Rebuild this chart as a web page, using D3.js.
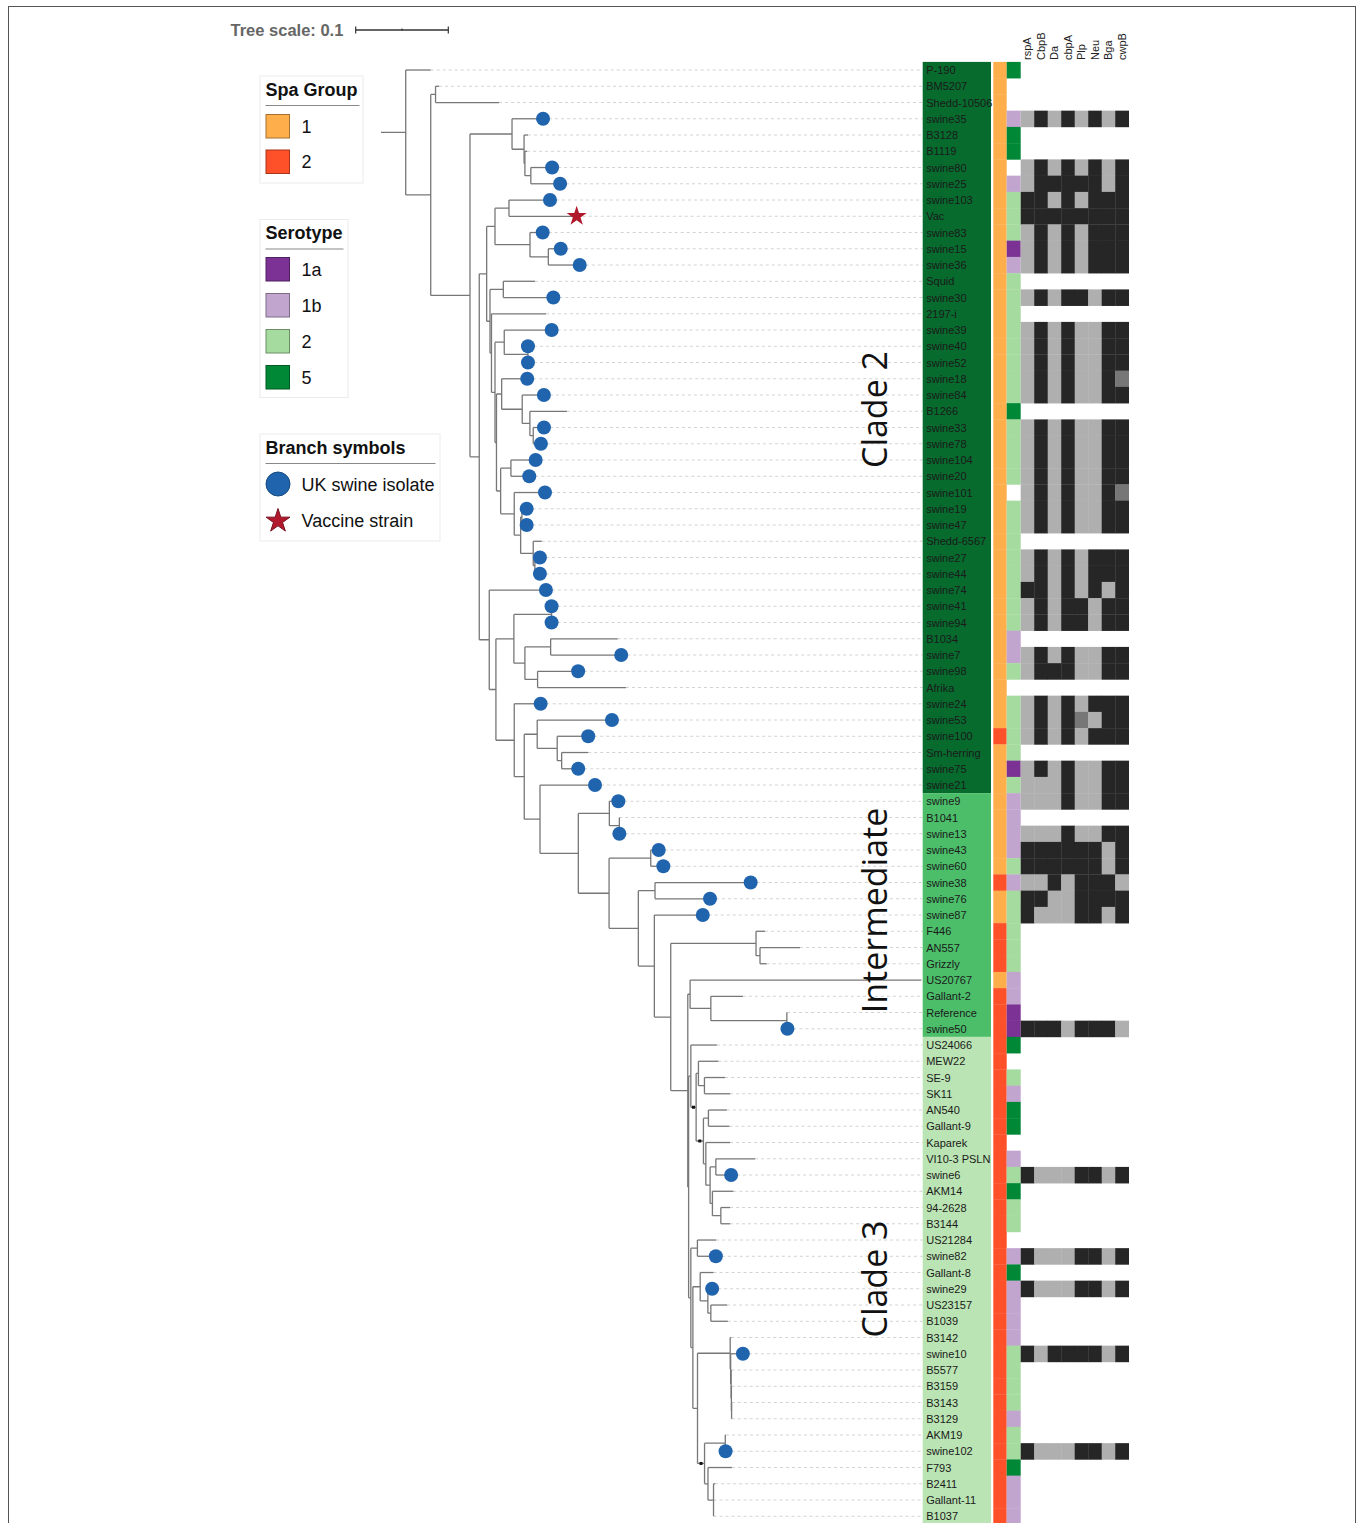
<!DOCTYPE html>
<html>
<head>
<meta charset="utf-8">
<script src="https://cdn.jsdelivr.net/npm/d3@7"></script>
<style>
  body { margin: 0; background: #fff; font-family: "Liberation Sans", Arial, sans-serif; }
</style>
</head>
<body>
<script>
// ---- data ----
// tree with branch lengths (substitutions/site); "*" marks nodes that carry a small support dot
const treeNewick =
  "(P-190:0.0270,((BM5207:0.0038,Shedd-10506:0.0686):0.0052," +
  "((swine35:0.0335,(B3128:0.0043,(B1119:0.0024,(swine80:0.0230,swine25:0.0316):0.0064):0.0009):0.0130):0.0454," +
  "((((swine103:0.0443,Vac:0.0731):0.0151,(swine83:0.0137,(swine15:0.0134,swine36:0.0339):0.0198):0.0378):0.0090," +
  "((Squid:0.0342,swine30:0.0540):0.0144,(2197-i:0.0589," +
  "((swine39:0.0512,(swine40:0,swine52:0):0.0256):0.0100," +
  "((swine18:0.0276,(swine84:0.0234,(B1266:0.0400,(swine33:0.0116,swine78:0.0083):0.0036):0.0083):0.0222):0.0056," +
  "((swine104:0.0267,swine20:0.0198):0.0111,(swine101:0.0332,((swine19:0.0051,swine47:0.0051):0.0014," +
  "(Shedd-6567:0.0091,(swine27:0.0054,swine44:0.0054):0.0018):0.0136):0.0069):0.0147):0.0045):0.0016):0.0038):0.0016):0.0036):0.0080," +
  "(swine74:0.0612,(((swine41:0,swine94:0):0.0407,((B1034:0.0724,swine7:0.0762):0.0278,(swine98:0.0438,Afrika:0.0954):0.0137):0.0119):0.0194," +
  "(swine24:0.0285,((swine53:0.0807,(swine100:0.0335,(Sm-herring:0.0287,swine75:0.0179):0.0048):0.0216):0.0140," +
  "(swine21:0.0594,((swine9:0.0097,(B1041:0,swine13:0):0.0108):0.0335," +
  "((swine43:0.0086,swine60:0.0136):0.0450,((swine38:0.1033,swine76:0.0594):0.0180," +
  "(swine87:0.0523,((F446:0.0097,(AN557:0.0432,Grizzly:0.0072):0.0043):0.0921," +
  "((US20767:0.2495,(Gallant-2:0.0346,(Reference:0.0003,swine50:0.0006):0.0821):0.0224):0.0025," +
  "((US24066:0.0281,((MEW22:0.0216,(SE-9:0.0224,SK11:0.0278):0.0065):0.0025," +
  "((AN540:0.0199,Gallant-9:0.0227):0.0054,(Kaparek:0.0262,(('VI10-3 PSLN':0.0424,swine6:0.0165):0.0062," +
  "(AKM14:0.0227,(94-2628:0.0100,B3144:0.0100):0.0091):0.0025):0.0046):0.0026)*:0.0079)*:0.0057):0.0024," +
  "((US21284:0.0202,swine82:0.0199):0.0071,((Gallant-8:0.0144,(swine29:0.0046,(US23157:0.0176,B1039:0.0184):0.0032):0.0083):0.0079," +
  "((B3142:0.0011,(swine10:0.0132,(B5577:0.0005,(B3159:0.0004,(B3143:0.0002,B3129:0.0002):0.0002):0.0003):0.0005):0.0005):0.0353," +
  "((AKM19:0.0008,swine102:0.0003):0.0224,(F793:0.0259,(B2411:0.0018,Gallant-11:0,B1037:0):0.0060):0.0037)*:0.0076):0.0050):0.0022):0.0024" +
  "):0.0009):0.0184):0.0177):0.0173):0.0316):0.0332):0.0414):0.0170):0.0108):0.0198):0.0072):0.0108):0.0100):0.0424):0.0270):0.0267;";

const taxa = [
  "P-190","BM5207","Shedd-10506","swine35","B3128","B1119","swine80","swine25","swine103","Vac",
  "swine83","swine15","swine36","Squid","swine30","2197-i","swine39","swine40","swine52","swine18",
  "swine84","B1266","swine33","swine78","swine104","swine20","swine101","swine19","swine47","Shedd-6567",
  "swine27","swine44","swine74","swine41","swine94","B1034","swine7","swine98","Afrika","swine24",
  "swine53","swine100","Sm-herring","swine75","swine21","swine9","B1041","swine13","swine43","swine60",
  "swine38","swine76","swine87","F446","AN557","Grizzly","US20767","Gallant-2","Reference","swine50",
  "US24066","MEW22","SE-9","SK11","AN540","Gallant-9","Kaparek","VI10-3 PSLN","swine6","AKM14",
  "94-2628","B3144","US21284","swine82","Gallant-8","swine29","US23157","B1039","B3142","swine10",
  "B5577","B3159","B3143","B3129","AKM19","swine102","F793","B2411","Gallant-11","B1037"
];

const spaGroup = [
  "1","1","1","1","1","1","1","1","1","1",
  "1","1","1","1","1","1","1","1","1","1",
  "1","1","1","1","1","1","1","1","1","1",
  "1","1","1","1","1","1","1","1","1","1",
  "1","2","1","1","1","1","1","1","1","1",
  "2","1","1","2","2","2","1","2","2","2",
  "2","2","2","2","2","2","2","2","2","2",
  "2","2","2","2","2","2","2","2","2","2",
  "2","2","2","2","2","2","2","2","2","2"
];

const serotype = [
  "5","","","1b","5","5","","1b","2","2",
  "2","1a","1b","2","2","2","2","2","2","2",
  "2","5","2","2","2","2","","2","2","2",
  "2","2","2","2","2","1b","1b","2","","2",
  "2","2","2","1a","2","1b","1b","1b","1b","2",
  "1b","2","2","2","2","2","1b","1b","1a","1a",
  "5","","2","1b","5","5","","1b","2","5",
  "2","2","","1b","5","1b","1b","1b","1b","2",
  "2","2","2","1b","2","2","5","1b","1b","1b"
];

const genes = ["rspA","CbpB","Da","cbpA","Plp","Neu","Bga","cwpB"];

// B = present, G = variant, D = partial, "" = not typed
const geneProfile = [
  "","","","GBGBGBGB","","","GBGBGBGB","GBBBBBGB","BBGBGBBB","BBBBBBBB",
  "GBGBGBBB","GBGBGBBB","GBGBGBBB","","GBGBBGBB","","GBGBGGBB","GBGBGGBB","GBGBGGBB","GBGBGGBD",
  "GBGBGGBB","","GBGBGGBB","GBGBGGBB","GBGBGGBB","GBGBGGBB","GBGBGGBD","GBGBGGBB","GBGBGGBB","",
  "GBGBGBBB","GBGBGBBB","BBGBGBGB","GBGBBGBB","GBGBBGBB","","GBGBGGBB","GBBBGGBB","","GBGBGBBB",
  "GBGBDGBB","GBGBGBBB","","GBGBGGBB","GGGBGGBB","GGGBGGBB","","GGGBGGBB","BBBBBBGB","BBBBBBGB",
  "GGBGBBBG","BBGGBBBB","BGGGBBGB","","","","","","","BBBGBBBG",
  "","","","","","","","","BGGGBBGB","",
  "","","","BGGGBBGB","","BGGGBBGB","","","","BGBBBBGB",
  "","","","","","BGGGBBGB","","","",""
];

const cladeNames = ["Clade 2", "Intermediate", "Clade 3"];
const cladeFirst = ["P-190", "swine9", "US24066"];
const cladeLast = ["swine21", "swine50", "B1037"];

const spaLegend = ["1", "2"];
const serotypeLegend = ["1a", "1b", "2", "5"];
const symbolLegend = ["UK swine isolate", "Vaccine strain"];
const vaccineStrains = ["Vac"];
const treeScaleValue = 0.1;

// ---- colours ----
const spaColor = d3.scaleOrdinal().domain(spaLegend).range(["#feae4a", "#fe5029"]);
const seroColor = d3.scaleOrdinal().domain(serotypeLegend).range(["#7b3294", "#c2a5cf", "#a6dba0", "#008837"]);
const cladeColor = d3.scaleOrdinal().domain(cladeNames).range(["#076b2e", "#4cbe6a", "#bae4b3"]);
const geneColor = { B: "#262626", G: "#afafaf", D: "#777777" };

// ---- newick parsing ----
function parseNewick(s) {
  const ancestors = [];
  let tree = {};
  const tokens = s.split(/\s*('[^']*'|[(),:;])\s*/).filter(t => t.length);
  for (let i = 0; i < tokens.length; i++) {
    const t = tokens[i];
    if (t === "(") { const sub = {}; tree.children = [sub]; ancestors.push(tree); tree = sub; }
    else if (t === ",") { const sub = {}; ancestors[ancestors.length - 1].children.push(sub); tree = sub; }
    else if (t === ")") { tree = ancestors.pop(); }
    else if (t === ":" || t === ";") { }
    else {
      const prev = tokens[i - 1];
      if (prev === ":") tree.length = parseFloat(t);
      else tree.name = t.replace(/^'|'$/g, "");
    }
  }
  return tree;
}

const width = 1363;
const height = 1523;

const svg = d3.select("body").append("svg")
  .attr("width", width)
  .attr("height", height);

// outer frame
svg.append("rect")
  .attr("x", 8.5).attr("y", 6.5)
  .attr("width", 1347).attr("height", 1560)
  .attr("fill", "none").attr("stroke", "#555");

// ---- scales ----
const x = d3.scaleLinear().domain([0, treeScaleValue]).range([381, 473.6]);
const row = d3.scaleBand().domain(taxa).range([61.9, 61.9 + taxa.length * 16.25]);
const rowY = name => row(name) + row.bandwidth() / 2;

const labelX0 = 922.7, labelX1 = 991;
const spaX0 = 993.3, seroX0 = 1006.7, seroX1 = 1020.7;
const geneX = d3.scaleBand().domain(genes).range([1020.7, 1128.7]);

// ---- tree layout ----
const root = d3.hierarchy(parseNewick(treeNewick));
root.eachBefore(d => { d.dist = (d.parent ? d.parent.dist : 0) + (d.data.length || 0); });
root.eachAfter(d => {
  d.y = d.children
    ? (d.children[0].y + d.children[d.children.length - 1].y) / 2
    : rowY(d.data.name);
});
const leaves = root.leaves();

// dashed leaders
svg.append("g").selectAll("line").data(leaves).join("line")
  .attr("x1", d => x(d.dist)).attr("x2", labelX0)
  .attr("y1", d => d.y).attr("y2", d => d.y)
  .attr("stroke", "#d2d2d2").attr("stroke-dasharray", "3,3");

// branches
const branchPath = d => {
  let p = d.parent
    ? `M${x(d.parent.dist)},${d.y}H${x(d.dist)}`
    : `M${x(0)},${d.y}H${x(d.dist)}`;
  if (d.children) {
    p += `M${x(d.dist)},${d.children[0].y}V${d.children[d.children.length - 1].y}`;
  }
  return p;
};
svg.append("g").selectAll("path").data(root.descendants()).join("path")
  .attr("d", branchPath)
  .attr("fill", "none")
  .attr("stroke", "#777")
  .attr("stroke-width", 1.3);

// support dots
svg.append("g").selectAll("rect")
  .data(root.descendants().filter(d => d.data.name === "*"))
  .join("rect")
  .attr("x", d => (x(d.parent.dist) + x(d.dist)) / 2 - 1.5)
  .attr("y", d => d.y - 1.5)
  .attr("width", 3).attr("height", 3)
  .attr("fill", "#111");

// leaf symbols
svg.append("g").selectAll("circle")
  .data(leaves.filter(d => d.data.name.startsWith("swine")))
  .join("circle")
  .attr("cx", d => x(d.dist)).attr("cy", d => d.y)
  .attr("r", 7)
  .attr("fill", "#2064ae");

const star = d3.symbol(d3.symbolStar, 125);
svg.append("g").selectAll("path")
  .data(leaves.filter(d => vaccineStrains.includes(d.data.name)))
  .join("path")
  .attr("d", star)
  .attr("transform", d => `translate(${x(d.dist)},${d.y})`)
  .attr("fill", "#b2182b");

// ---- clade label bands ----
const bands = svg.append("g");
cladeNames.forEach((c, i) => {
  const y0 = row(cladeFirst[i]);
  const y1 = row(cladeLast[i]) + row.bandwidth();
  bands.append("rect")
    .attr("x", labelX0).attr("y", y0)
    .attr("width", labelX1 - labelX0).attr("height", y1 - y0)
    .attr("fill", cladeColor(c));
});

svg.append("g").selectAll("text").data(taxa).join("text")
  .attr("x", labelX0 + 3.5)
  .attr("y", d => rowY(d) + 4)
  .attr("font-size", 11)
  .attr("fill", "#1a1a1a")
  .text(d => d);

// clade titles
const cladeCenters = [409.5, 910.5, 1279];
svg.append("g").selectAll("text").data(cladeNames).join("text")
  .attr("transform", (d, i) => `translate(887,${cladeCenters[i]}) rotate(-90)`)
  .attr("text-anchor", "middle")
  .attr("font-family", "'Open Sans', sans-serif")
  .attr("font-size", 34)
  .attr("fill", "#111")
  .text(d => d);

// ---- spa and serotype strips ----
svg.append("g").selectAll("rect").data(taxa).join("rect")
  .attr("x", spaX0).attr("y", d => row(d))
  .attr("width", seroX0 - spaX0).attr("height", row.bandwidth() + 0.3)
  .attr("fill", (d, i) => spaColor(spaGroup[i]));

svg.append("g").selectAll("rect").data(taxa.filter((d, i) => serotype[i] !== "")).join("rect")
  .attr("x", seroX0).attr("y", d => row(d))
  .attr("width", seroX1 - seroX0).attr("height", row.bandwidth() + 0.3)
  .attr("fill", d => seroColor(serotype[taxa.indexOf(d)]));

// ---- gene heatmap ----
const cells = [];
taxa.forEach((t, i) => {
  geneProfile[i].split("").forEach((v, j) => cells.push({ taxon: t, gene: genes[j], v }));
});
svg.append("g").selectAll("rect").data(cells.filter(c => geneColor[c.v])).join("rect")
  .attr("x", d => geneX(d.gene)).attr("y", d => row(d.taxon))
  .attr("width", geneX.bandwidth() + 0.3).attr("height", row.bandwidth() + 0.3)
  .attr("fill", d => geneColor[d.v]);

svg.append("g").selectAll("text").data(genes).join("text")
  .attr("transform", d => `translate(${geneX(d) + geneX.bandwidth() / 2 + 4},60) rotate(-90)`)
  .attr("font-size", 11)
  .attr("fill", "#222")
  .text(d => d);

// ---- tree scale ----
const bar = d3.scaleLinear().domain([0, treeScaleValue]).range([355.7, 448.3]);
const sb = svg.append("g");
sb.append("text")
  .attr("x", 230.5).attr("y", 35.5)
  .attr("font-size", 16.5).attr("font-weight", "bold")
  .attr("fill", "#666")
  .text(`Tree scale: ${treeScaleValue}`);
sb.append("line")
  .attr("x1", bar(0)).attr("x2", bar(treeScaleValue))
  .attr("y1", 30).attr("y2", 30)
  .attr("stroke", "#333").attr("stroke-width", 1.3);
sb.selectAll(".tick").data([0, treeScaleValue / 2, treeScaleValue]).join("line")
  .attr("class", "tick")
  .attr("x1", d => bar(d)).attr("x2", d => bar(d))
  .attr("y1", (d, i) => i === 1 ? 28.5 : 26.5)
  .attr("y2", (d, i) => i === 1 ? 30.8 : 33.5)
  .attr("stroke", "#333").attr("stroke-width", 1.2);

// ---- legends ----
function legendBox(x0, y0, w, h, title, underlineW) {
  const g = svg.append("g");
  g.append("rect").attr("x", x0 + 0.5).attr("y", y0 + 0.5).attr("width", w).attr("height", h)
    .attr("fill", "#fff").attr("stroke", "#ebebeb");
  g.append("text").attr("x", x0 + 6).attr("y", y0 + 20)
    .attr("font-size", 18).attr("font-weight", "bold").attr("fill", "#111").text(title);
  g.append("line").attr("x1", x0 + 6).attr("x2", x0 + 6 + underlineW)
    .attr("y1", y0 + 30).attr("y2", y0 + 30).attr("stroke", "#888");
  return g;
}

const spaBox = legendBox(259.5, 75.5, 103, 107, "Spa Group", 94);
spaBox.selectAll("rect.k").data(spaLegend).join("rect").attr("class", "k")
  .attr("x", 266).attr("y", (d, i) => 114.5 + i * 35.5)
  .attr("width", 23.5).attr("height", 23.5)
  .attr("fill", d => spaColor(d))
  .attr("stroke", d => d3.color(spaColor(d)).darker(1.2));
spaBox.selectAll("text.k").data(spaLegend).join("text").attr("class", "k")
  .attr("x", 301.5).attr("y", (d, i) => 132.5 + i * 35.5)
  .attr("font-size", 18).attr("fill", "#111").text(d => d);

const seroBox = legendBox(259.5, 219, 88, 178, "Serotype", 78);
seroBox.selectAll("rect.k").data(serotypeLegend).join("rect").attr("class", "k")
  .attr("x", 266).attr("y", (d, i) => 257.5 + i * 36)
  .attr("width", 23.5).attr("height", 23.5)
  .attr("fill", d => seroColor(d))
  .attr("stroke", d => d3.color(seroColor(d)).darker(1.2));
seroBox.selectAll("text.k").data(serotypeLegend).join("text").attr("class", "k")
  .attr("x", 301.5).attr("y", (d, i) => 275.5 + i * 36)
  .attr("font-size", 18).attr("fill", "#111").text(d => d);

const symBox = legendBox(259.5, 433.5, 180, 107, "Branch symbols", 170);
symBox.append("circle").attr("cx", 278).attr("cy", 484).attr("r", 12)
  .attr("fill", "#2064ae").attr("stroke", "#174a80");
symBox.append("path").attr("d", d3.symbol(d3.symbolStar, 175))
  .attr("transform", "translate(278,521)")
  .attr("fill", "#b2182b").attr("stroke", "#7a1020");
symBox.selectAll("text.k").data(symbolLegend).join("text").attr("class", "k")
  .attr("x", 301.5).attr("y", (d, i) => 490.5 + i * 36)
  .attr("font-size", 18).attr("fill", "#111").text(d => d);
</script>
</body>
</html>
